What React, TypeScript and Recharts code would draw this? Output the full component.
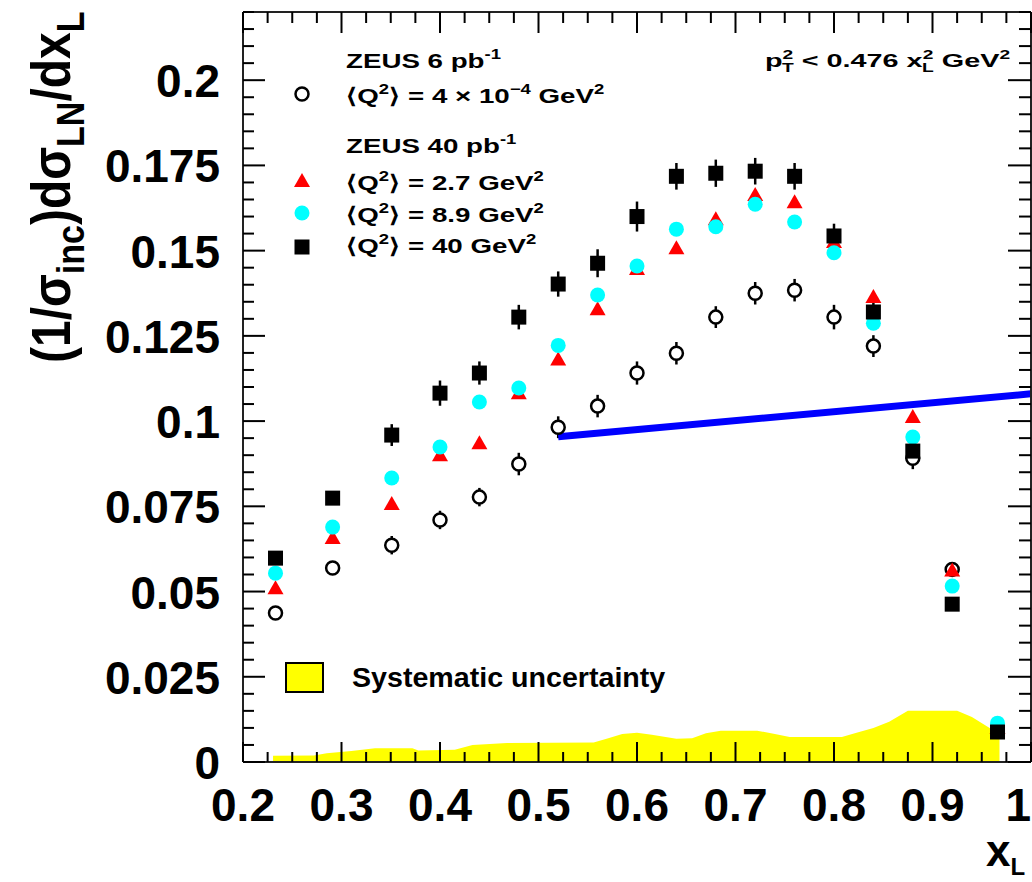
import React from "react";
import { ComposedChart, XAxis, YAxis, Scatter, Area, Line, ErrorBar } from "recharts";

const W = 1032;
const H = 882;
const FONT = "'Liberation Sans', Arial, Helvetica, sans-serif";

// x_L bin centres
const xL = [0.233, 0.291, 0.351, 0.4, 0.44, 0.48, 0.52, 0.56, 0.6, 0.64, 0.68, 0.72, 0.76, 0.8, 0.84, 0.88, 0.92, 0.966];
// <Q2> = 40 GeV2 (black squares)
const q40 = [0.0598, 0.0774, 0.0959, 0.1082, 0.1141, 0.1305, 0.1402, 0.1463, 0.16, 0.1718, 0.1727, 0.1733, 0.1718, 0.1543, 0.132, 0.0912, 0.0463, 0.0088];
const q40Err = [0.0015, 0.0015, 0.0032, 0.0037, 0.0034, 0.0036, 0.0037, 0.0041, 0.0044, 0.0039, 0.004, 0.0039, 0.0039, 0.0036, 0.0039, 0.003, 0.002, 0.001];
// <Q2> = 8.9 GeV2 (cyan circles)
const q89 = [0.0554, 0.0689, 0.0833, 0.0924, 0.1056, 0.1097, 0.1222, 0.137, 0.1455, 0.1563, 0.157, 0.1636, 0.1584, 0.1494, 0.1287, 0.0953, 0.0516, 0.0114];
// <Q2> = 2.7 GeV2 (red triangles)
const q27 = [0.051, 0.0657, 0.0757, 0.09, 0.0935, 0.1082, 0.1181, 0.1328, 0.1446, 0.1507, 0.1592, 0.1663, 0.1642, 0.1525, 0.1364, 0.1012, 0.0562, 0.01];
// <Q2> = 4e-4 GeV2 photoproduction (open circles)
const photoX = [0.233, 0.291, 0.351, 0.4, 0.44, 0.48, 0.52, 0.56, 0.6, 0.64, 0.68, 0.72, 0.76, 0.8, 0.84, 0.88, 0.92];
const photo = [0.0437, 0.0569, 0.0636, 0.071, 0.0777, 0.0874, 0.0982, 0.1044, 0.1141, 0.1199, 0.1305, 0.1375, 0.1384, 0.1305, 0.122, 0.0891, 0.0565];
const photoErr = [0.001, 0.0018, 0.0027, 0.0027, 0.0027, 0.0033, 0.0032, 0.0033, 0.0034, 0.0033, 0.0032, 0.0033, 0.0033, 0.0036, 0.0032, 0.0032, 0.002];

// systematic uncertainty band
const sysX = [0.2305, 0.272, 0.285, 0.31, 0.334, 0.372, 0.378, 0.415, 0.433, 0.468, 0.556, 0.57, 0.585, 0.6, 0.615, 0.64, 0.656, 0.67, 0.685, 0.722, 0.74, 0.755, 0.808, 0.822, 0.84, 0.856, 0.875, 0.925, 0.94, 0.958, 0.968];
const sysH = [0.0018, 0.0019, 0.0026, 0.0032, 0.004, 0.004, 0.0034, 0.0036, 0.005, 0.0056, 0.0057, 0.0069, 0.0082, 0.0086, 0.008, 0.0068, 0.007, 0.0084, 0.0092, 0.0092, 0.0082, 0.0073, 0.0073, 0.0085, 0.01, 0.0118, 0.015, 0.015, 0.0132, 0.01, 0.0086];

// straight blue line
const lineX = [0.52, 1.0];
const lineY = [0.0954, 0.108];

const xMajor = [0.2, 0.3, 0.4, 0.5, 0.6, 0.7, 0.8, 0.9, 1.0];
const xMajorLabels = ["0.2", "0.3", "0.4", "0.5", "0.6", "0.7", "0.8", "0.9", "1"];
const yMajor = [0, 0.025, 0.05, 0.075, 0.1, 0.125, 0.15, 0.175, 0.2];
const yMajorLabels = ["0", "0.025", "0.05", "0.075", "0.1", "0.125", "0.15", "0.175", "0.2"];
const xTicks = Array.from({ length: 33 }, (_, i) => +(0.2 + i * 0.025).toFixed(4));
const yTicks = Array.from({ length: 45 }, (_, i) => +(i * 0.005).toFixed(4));

const photoData = photoX.map((x, i) => ({ x, y: photo[i], e: photoErr[i] }));
const q27Data = xL.map((x, i) => ({ x, y: q27[i] }));
const q89Data = xL.map((x, i) => ({ x, y: q89[i] }));
const q40Data = xL.map((x, i) => ({ x, y: q40[i], e: q40Err[i] }));
const sysData = sysX.map((x, i) => ({ x, y: sysH[i] }));
const lineData = lineX.map((x, i) => ({ x, y: lineY[i] }));

const near = (a: number, b: number) => Math.abs(a - b) < 1e-7;
const idx = (arr: number[], v: number) => arr.findIndex((m) => near(m, v));

const XTickBottom = (p: any) => {
  const i = idx(xMajor, p.payload.value);
  const major = i >= 0;
  const last = i === xMajor.length - 1;
  return (
    <g>
      <line x1={p.x} x2={p.x} y1={p.y} y2={p.y - (major ? 20 : 10)} stroke="#000" strokeWidth={2} />
      {major && (
        <text x={last ? p.x : p.x} y={p.y + 59} textAnchor={last ? "end" : "middle"} fontFamily={FONT} fontWeight="bold" fontSize={46} fill="#000">
          {xMajorLabels[i]}
        </text>
      )}
    </g>
  );
};
const XTickTop = (p: any) => {
  const major = idx(xMajor, p.payload.value) >= 0;
  return <line x1={p.x} x2={p.x} y1={p.y} y2={p.y + (major ? 21 : 11)} stroke="#000" strokeWidth={2} />;
};
const YTickLeft = (p: any) => {
  const i = idx(yMajor, p.payload.value);
  const major = i >= 0;
  return (
    <g>
      <line x1={p.x} x2={p.x + (major ? 22 : 11)} y1={p.y} y2={p.y} stroke="#000" strokeWidth={2} />
      {major && (
        <text x={p.x - 23} y={p.y + 17} textAnchor="end" fontFamily={FONT} fontWeight="bold" fontSize={46} fill="#000">
          {yMajorLabels[i]}
        </text>
      )}
    </g>
  );
};
const YTickRight = (p: any) => {
  const major = idx(yMajor, p.payload.value) >= 0;
  return <line x1={p.x} x2={p.x - (major ? 23 : 12)} y1={p.y} y2={p.y} stroke="#000" strokeWidth={2} />;
};

const OpenCircle = (p: any) => <circle cx={p.cx} cy={p.cy} r={6.5} fill="#fff" stroke="#000" strokeWidth={2.5} />;
const RedTriangle = (p: any) => (
  <polygon points={`${p.cx},${p.cy - 8} ${p.cx - 8},${p.cy + 6} ${p.cx + 8},${p.cy + 6}`} fill="#ff0000" />
);
const CyanCircle = (p: any) => <circle cx={p.cx} cy={p.cy} r={7.5} fill="#00ffff" />;
const BlackSquare = (p: any) => <rect x={p.cx - 7.5} y={p.cy - 7.5} width={15} height={15} fill="#000" />;

const axisLine = { stroke: "#222", strokeWidth: 2 };

function Overlay() {
  const sup = 14;
  return (
    <svg width={W} height={H} style={{ position: "absolute", left: 0, top: 0, pointerEvents: "none" }} fontFamily={FONT} fontWeight="bold" fill="#000">
      {/* y axis title */}
      <g transform="translate(70,363) scale(1.15,1) rotate(-90)">
        <text x={0} y={0} fontSize={48}>
          <tspan>(1/σ</tspan>
          <tspan fontSize={34} dy={12}>inc</tspan>
          <tspan dy={-12}>)dσ</tspan>
          <tspan fontSize={34} dy={12}>LN</tspan>
          <tspan dy={-12}>/dx</tspan>
          <tspan fontSize={34} dy={12}>L</tspan>
        </text>
      </g>
      {/* x axis title */}
      <text x={986} y={866} fontSize={44}>
        x<tspan fontSize={24} dy={9}>L</tspan>
      </text>
      {/* cut label */}
      <g transform="translate(765,67) scale(1.6,1)">
        <text x={0} y={0} fontSize={18}>
          <tspan>p</tspan>
          <tspan fontSize={12} dy={-8}>2</tspan>
          <tspan fontSize={12} dx={-7} dy={13}>T</tspan>
          <tspan dy={-5}> &lt; 0.476 x</tspan>
          <tspan fontSize={12} dy={-8}>2</tspan>
          <tspan fontSize={12} dx={-7} dy={13}>L</tspan>
          <tspan dy={-5}> GeV</tspan>
          <tspan fontSize={12} dy={-8}>2</tspan>
        </text>
      </g>
      {/* legend */}
      <g transform="translate(346,0) scale(1.32,1)">
        <text x={0} y={68} fontSize={21}>
          ZEUS 6 pb<tspan fontSize={sup} dy={-9}>-1</tspan>
        </text>
        <text x={0} y={103} fontSize={21}>
          ⟨Q<tspan fontSize={sup} dy={-9}>2</tspan>
          <tspan dy={9}>⟩ = 4 × 10</tspan>
          <tspan fontSize={sup} dy={-9}>−4</tspan>
          <tspan dy={9}> GeV</tspan>
          <tspan fontSize={sup} dy={-9}>2</tspan>
        </text>
        <text x={0} y={153} fontSize={21}>
          ZEUS 40 pb<tspan fontSize={sup} dy={-9}>-1</tspan>
        </text>
        <text x={0} y={190} fontSize={21}>
          ⟨Q<tspan fontSize={sup} dy={-9}>2</tspan>
          <tspan dy={9}>⟩ = 2.7 GeV</tspan>
          <tspan fontSize={sup} dy={-9}>2</tspan>
        </text>
        <text x={0} y={222} fontSize={21}>
          ⟨Q<tspan fontSize={sup} dy={-9}>2</tspan>
          <tspan dy={9}>⟩ = 8.9 GeV</tspan>
          <tspan fontSize={sup} dy={-9}>2</tspan>
        </text>
        <text x={0} y={253} fontSize={21}>
          ⟨Q<tspan fontSize={sup} dy={-9}>2</tspan>
          <tspan dy={9}>⟩ = 40 GeV</tspan>
          <tspan fontSize={sup} dy={-9}>2</tspan>
        </text>
      </g>
      <OpenCircle cx={302} cy={94} />
      <RedTriangle cx={302} cy={181} />
      <CyanCircle cx={302} cy={213} />
      <BlackSquare cx={302} cy={247} />
      {/* systematic legend */}
      <rect x={286} y={663} width={37} height={29} fill="#ffff00" stroke="#000" strokeWidth={2} />
      <g transform="translate(352,687) scale(1.06,1)">
        <text x={0} y={0} fontSize={27}>Systematic uncertainty</text>
      </g>
    </svg>
  );
}

export default function App() {
  return (
    <div style={{ position: "absolute", left: 0, top: 0, width: W, height: H, background: "#fff" }}>
      <ComposedChart width={W} height={H} margin={{ top: 11, right: 0, bottom: 119, left: 0 }}>
        <XAxis
          xAxisId="b"
          dataKey="x"
          type="number"
          domain={[0.2, 1.0]}
          allowDataOverflow
          ticks={xTicks}
          interval={0}
          height={1}
          tickSize={0}
          tickMargin={0}
          axisLine={axisLine}
          tickLine={false}
          tick={XTickBottom}
        />
        <XAxis
          xAxisId="t"
          orientation="top"
          dataKey="x"
          type="number"
          domain={[0.2, 1.0]}
          allowDataOverflow
          ticks={xTicks}
          interval={0}
          height={1}
          tickSize={0}
          tickMargin={0}
          axisLine={axisLine}
          tickLine={false}
          tick={XTickTop}
        />
        <YAxis
          yAxisId="l"
          dataKey="y"
          type="number"
          domain={[0, 0.22]}
          allowDataOverflow
          ticks={yTicks}
          interval={0}
          width={243}
          tickSize={0}
          tickMargin={0}
          axisLine={axisLine}
          tickLine={false}
          tick={YTickLeft}
        />
        <YAxis
          yAxisId="r"
          orientation="right"
          dataKey="y"
          type="number"
          domain={[0, 0.22]}
          allowDataOverflow
          ticks={yTicks}
          interval={0}
          width={1}
          tickSize={0}
          tickMargin={0}
          axisLine={axisLine}
          tickLine={false}
          tick={YTickRight}
        />
        <Area
          xAxisId="b"
          yAxisId="l"
          data={sysData}
          dataKey="y"
          type="linear"
          stroke="none"
          fill="#ffff00"
          fillOpacity={1}
          baseValue={0}
          isAnimationActive={false}
          dot={false}
          activeDot={false}
        />
        <Scatter xAxisId="b" yAxisId="l" data={photoData} dataKey="y" shape={OpenCircle} isAnimationActive={false}>
          <ErrorBar dataKey="e" direction="y" width={0} stroke="#000" strokeWidth={2.5} />
        </Scatter>
        <Scatter xAxisId="b" yAxisId="l" data={q27Data} dataKey="y" shape={RedTriangle} isAnimationActive={false} />
        <Scatter xAxisId="b" yAxisId="l" data={q89Data} dataKey="y" shape={CyanCircle} isAnimationActive={false} />
        <Scatter xAxisId="b" yAxisId="l" data={q40Data} dataKey="y" shape={BlackSquare} isAnimationActive={false}>
          <ErrorBar dataKey="e" direction="y" width={0} stroke="#000" strokeWidth={2.5} />
        </Scatter>
        <Line
          xAxisId="b"
          yAxisId="l"
          data={lineData}
          dataKey="y"
          type="linear"
          stroke="#0000ff"
          strokeWidth={7}
          dot={false}
          activeDot={false}
          isAnimationActive={false}
        />
      </ComposedChart>
      <Overlay />
    </div>
  );
}
